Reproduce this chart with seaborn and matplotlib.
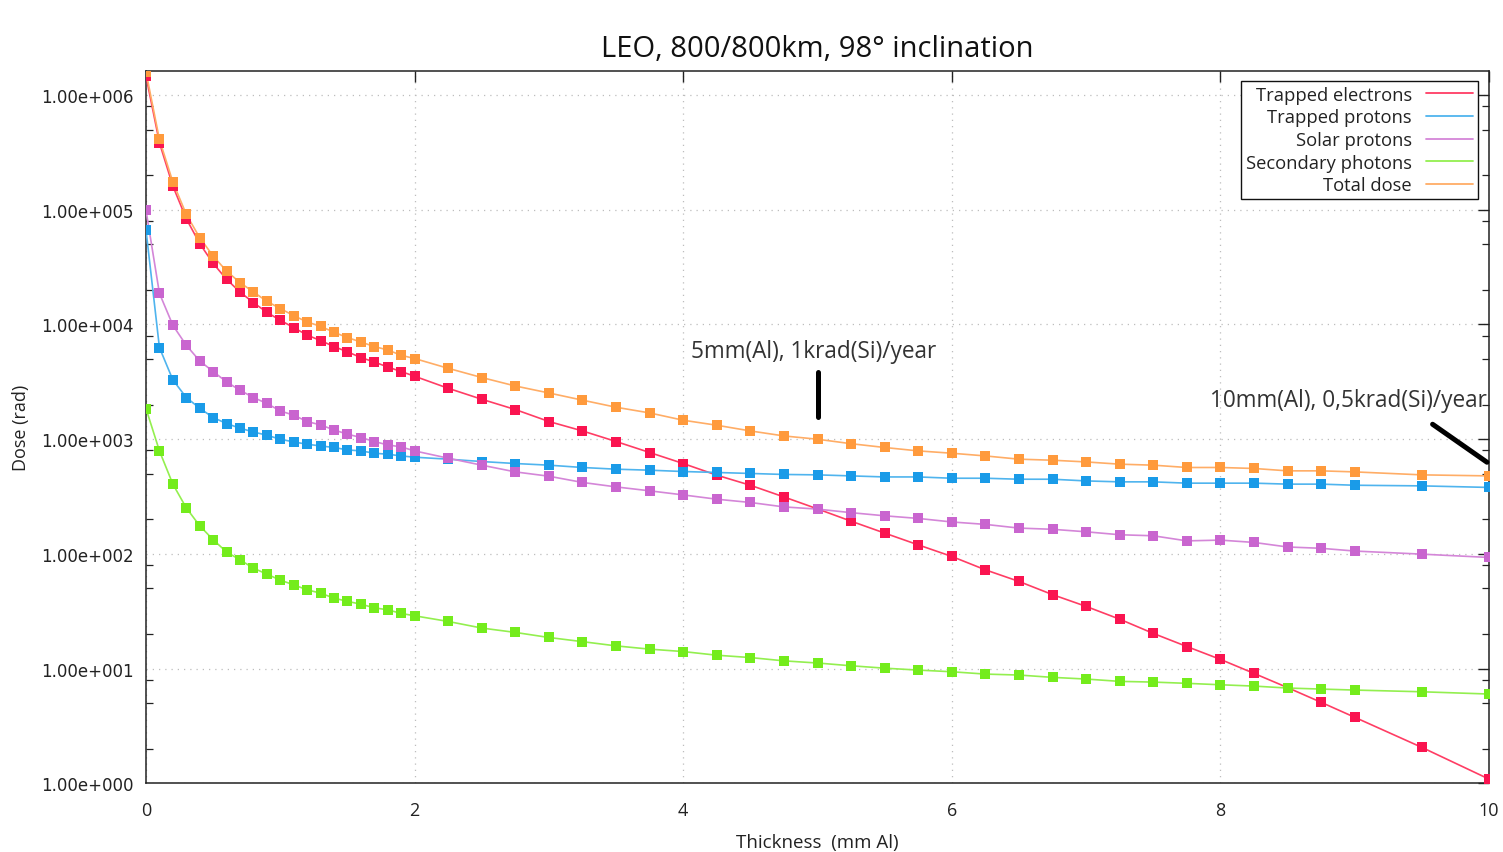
import numpy as np
import pandas as pd
import matplotlib
matplotlib.use("Agg")
import matplotlib.pyplot as plt
import seaborn as sns
from matplotlib.lines import Line2D
from matplotlib.ticker import LogLocator, FuncFormatter, FixedLocator, NullFormatter

# ---------------- data ----------------
thickness = [0.0, 0.1, 0.2, 0.3, 0.4, 0.5, 0.6, 0.7, 0.8, 0.9, 1.0,
             1.1, 1.2, 1.3, 1.4, 1.5, 1.6, 1.7, 1.8, 1.9, 2.0,
             2.25, 2.5, 2.75, 3.0, 3.25, 3.5, 3.75, 4.0, 4.25, 4.5, 4.75,
             5.0, 5.25, 5.5, 5.75, 6.0, 6.25, 6.5, 6.75, 7.0, 7.25, 7.5,
             7.75, 8.0, 8.25, 8.5, 8.75, 9.0, 9.5, 10.0]

trapped_electrons = [1.46e6, 3.84e5, 1.61e5, 8.36e4, 5.07e4, 3.41e4, 2.475e4, 1.919e4,
                     1.551e4, 1.277e4, 1.088e4, 9.40e3, 8.08e3, 7.24e3, 6.42e3, 5.78e3,
                     5.15e3, 4.71e3, 4.26e3, 3.89e3, 3.54e3,
                     2.78e3, 2.23e3, 1.814e3, 1.427e3, 1.181e3, 955, 766, 614, 486, 397, 314,
                     247, 193, 152, 120, 95.1, 72.7, 57.6, 44.2, 34.9, 27.0, 20.3,
                     15.6, 12.05, 9.10, 6.84, 5.09, 3.77, 2.06, 1.09]

trapped_protons = [6.66e4, 6.29e3, 3.29e3, 2.31e3, 1.862e3, 1.545e3, 1.370e3, 1.247e3,
                   1.157e3, 1.083e3, 1.000e3, 947, 904, 874, 847, 807,
                   791, 755, 740, 715, 697,
                   670, 639, 614, 594, 567, 548, 537, 523, 513, 503, 493,
                   489, 479, 469, 469, 457, 457, 448, 448, 433, 425, 425,
                   414, 414, 414, 406, 406, 397, 392, 380]

solar_protons = [9.88e4, 1.870e4, 9.84e3, 6.59e3, 4.81e3, 3.89e3, 3.16e3, 2.67e3,
                 2.31e3, 2.05e3, 1.764e3, 1.619e3, 1.427e3, 1.332e3, 1.205e3, 1.106e3,
                 1.035e3, 955, 892, 857, 791,
                 683, 594, 519, 476, 420, 384, 355, 327, 300, 281, 257,
                 246, 229, 215, 204, 190, 181, 168, 164, 156, 147, 144,
                 130, 132, 126, 115, 112, 106, 99.6, 93.2]

secondary_photons = [1.851e3, 791, 406, 252, 176, 133, 104, 88.8,
                     75.2, 66.7, 59.1, 53.8, 48.7, 45.5, 41.2, 38.6,
                     36.5, 33.9, 32.6, 30.3, 28.9,
                     25.8, 22.6, 20.7, 18.7, 17.2, 15.8, 14.8, 14.1, 13.1, 12.5, 11.7,
                     11.2, 10.6, 10.1, 9.72, 9.40, 8.97, 8.80, 8.40, 8.12, 7.75, 7.64,
                     7.45, 7.24, 7.05, 6.78, 6.64, 6.51, 6.29, 6.01]

total_dose = [1.59e6, 4.10e5, 1.743e5, 9.12e4, 5.71e4, 3.95e4, 2.92e4, 2.32e4,
              1.919e4, 1.593e4, 1.376e4, 1.195e4, 1.051e4, 9.65e3, 8.55e3, 7.69e3,
              7.04e3, 6.42e3, 6.00e3, 5.39e3, 5.05e3,
              4.15e3, 3.45e3, 2.91e3, 2.53e3, 2.19e3, 1.90e3, 1.695e3, 1.464e3, 1.324e3, 1.181e3, 1.068e3,
              1.000e3, 914, 847, 791, 755, 715, 670, 656, 634, 606, 594,
              567, 567, 556, 530, 530, 519, 489, 479]

series_names = ["Trapped electrons", "Trapped protons", "Solar protons",
                "Secondary photons", "Total dose"]
series_values = [trapped_electrons, trapped_protons, solar_protons,
                 secondary_photons, total_dose]

x_ticks = [0, 2, 4, 6, 8, 10]
y_ticks = [1e0, 1e1, 1e2, 1e3, 1e4, 1e5, 1e6]

title_text = "LEO, 800/800km, 98° inclination"
xlabel_text = "Thickness  (mm Al)"
ylabel_text = "Dose (rad)"

note1_text = "5mm(Al), 1krad(Si)/year"
note1_pos = (4.97, 5.84e3)
note1_line = ([5.0, 5.0], [3.84e3, 1.56e3])
note2_text = "10mm(Al), 0,5krad(Si)/year"
note2_pos = (8.95, 2.19e3)
note2_line = ([9.58, 9.985], [1.35e3, 630])

# ---------------- styling ----------------
marker_colors = ["#fa1450", "#1a9be8", "#c965cf", "#74ec1c", "#ff9a3c"]
line_colors = ["#ff3d64", "#4fb4ee", "#d486d8", "#93ef4f", "#ffad66"]

sns.set_style("white")
plt.rcParams["font.family"] = ["Open Sans", "DejaVu Sans"]

fig = plt.figure(figsize=(15.03, 8.53), dpi=100)
fig.patch.set_facecolor("white")
ax = fig.add_axes([146 / 1503, 1 - 784.4 / 853, (1489 - 146) / 1503, (784.4 - 72) / 853])

for name, vals, mc, lc in zip(series_names, series_values, marker_colors, line_colors):
    d = pd.DataFrame({"thickness": thickness, "dose": vals})
    sns.lineplot(data=d, x="thickness", y="dose", ax=ax, color=lc, linewidth=1.2,
                 sort=False, legend=False, zorder=3)
    sns.scatterplot(data=d, x="thickness", y="dose", ax=ax, color=mc, marker="s",
                    s=42, linewidth=0, legend=False, zorder=4)

ax.set_yscale("log")
ax.set_xlim(0, 10)
ax.set_ylim(1.0, 1.62e6)

ax.xaxis.set_major_locator(FixedLocator(x_ticks))
ax.yaxis.set_major_locator(FixedLocator(y_ticks))
ax.yaxis.set_minor_locator(LogLocator(base=10, subs=[2.0, 5.0, 8.0]))
ax.yaxis.set_minor_formatter(NullFormatter())


def sci_fmt(v, p):
    e = int(np.round(np.log10(v)))
    return "%.2fe%+04d" % (v / 10 ** e, e)


ax.yaxis.set_major_formatter(FuncFormatter(sci_fmt))

ax.tick_params(axis="both", which="major", direction="in", length=8, width=1.0,
               top=True, right=True, color="#222222")
ax.tick_params(axis="y", which="minor", direction="in", length=5, width=0.9,
               left=True, right=True, color="#222222")
ax.tick_params(axis="x", which="major", pad=13, labelsize=13, labelcolor="#222222")
ax.tick_params(axis="y", which="major", pad=9, labelcolor="#222222")
for lab in ax.get_yticklabels():
    lab.set_fontfamily("DejaVu Sans")
    lab.set_fontsize(12)

for sp in ax.spines.values():
    sp.set_visible(True)
    sp.set_color("#222222")
    sp.set_linewidth(1.1)

ax.grid(True, which="major", linestyle=(0, (1, 4)), color="#bdbdbd", linewidth=0.9)
ax.set_axisbelow(True)

ax.set_title(title_text, fontsize=21, color="#111111", pad=11)
ax.set_xlabel(xlabel_text, fontsize=13.5, color="#222222", labelpad=10)
ax.set_ylabel(ylabel_text, fontsize=13, color="#222222", labelpad=8)

# annotations
ax.text(note1_pos[0], note1_pos[1], note1_text, ha="center", va="center",
        fontsize=16.3, color="#333333", zorder=6)
ax.plot(note1_line[0], note1_line[1], color="black", linewidth=3.6,
        solid_capstyle="round", zorder=6)
ax.text(note2_pos[0], note2_pos[1], note2_text, ha="center", va="center",
        fontsize=16.3, color="#333333", zorder=6)
ax.plot(note2_line[0], note2_line[1], color="black", linewidth=3.6,
        solid_capstyle="round", zorder=6, clip_on=False)

# legend (gnuplot style: text right-aligned, sample line after text)
handles = [Line2D([], [], color=c, linewidth=1.3) for c in line_colors]
leg = ax.legend(handles, series_names, loc="upper right",
                bbox_to_anchor=((1478 - 146) / 1343, (784.4 - 82) / 712.4),
                borderaxespad=0, markerfirst=False, frameon=True, fancybox=False,
                edgecolor="#111111", framealpha=1, fontsize=13.2,
                handlelength=2.6, handletextpad=0.75, labelspacing=0.25,
                borderpad=0.26)
leg.get_frame().set_linewidth(1.0)
for t in leg.get_texts():
    t.set_color("#222222")

fig.savefig("out.png", dpi=100)
